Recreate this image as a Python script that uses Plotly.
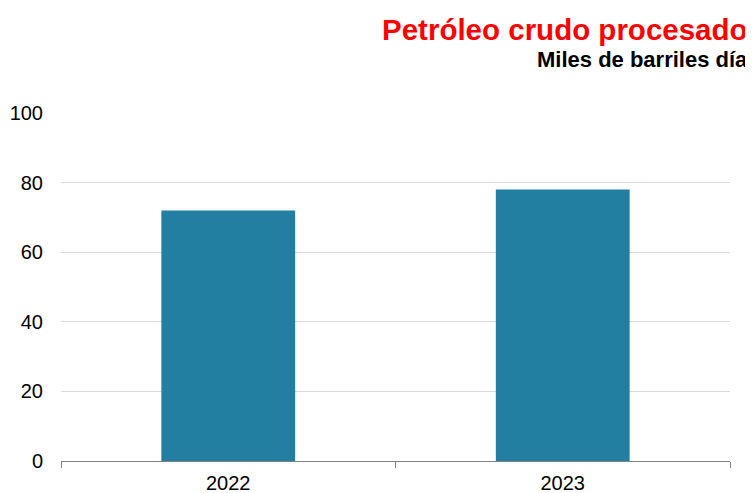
import plotly.graph_objects as go

years = ["2022", "2023"]
values = [72, 78]

fig = go.Figure()
fig.add_trace(go.Bar(
    x=years,
    y=values,
    marker=dict(color="#237FA1", line=dict(width=0)),
    width=0.4,
))

# the page body adds an 8px margin, so the figure is a bit smaller
fig.update_layout(
    width=745, height=485,
    margin=dict(l=53, r=23, t=105, b=32),
    paper_bgcolor="white",
    plot_bgcolor="white",
    font=dict(family="Liberation Sans, Arial, sans-serif", color="#000000", size=20),
    showlegend=False,
)

fig.add_annotation(
    text="<b>Petróleo crudo procesado</b>",
    xref="paper", yref="paper", x=1.03, y=1.241,
    xanchor="right", yanchor="middle", showarrow=False,
    font=dict(size=29.5, color="#FF0000"),
)
fig.add_annotation(
    text="<b>Miles de barriles día</b>",
    xref="paper", yref="paper", x=1.03, y=1.154,
    xanchor="right", yanchor="middle", showarrow=False,
    font=dict(size=22, color="#000000"),
)

fig.update_yaxes(
    range=[0, 100], dtick=20,
    showgrid=True, gridcolor="#D9D9D9", gridwidth=1,
    zeroline=False, showline=False,
    ticks="", ticklabelstandoff=17,
    automargin=False,
    tickfont=dict(size=20),
)
fig.update_xaxes(
    showline=True, linecolor="#808080", linewidth=1,
    ticks="outside", tickson="boundaries", ticklen=6, tickcolor="#808080",
    ticklabelstandoff=4,
    automargin=False,
    tickfont=dict(size=20),
)

fig.write_html("out.html")
